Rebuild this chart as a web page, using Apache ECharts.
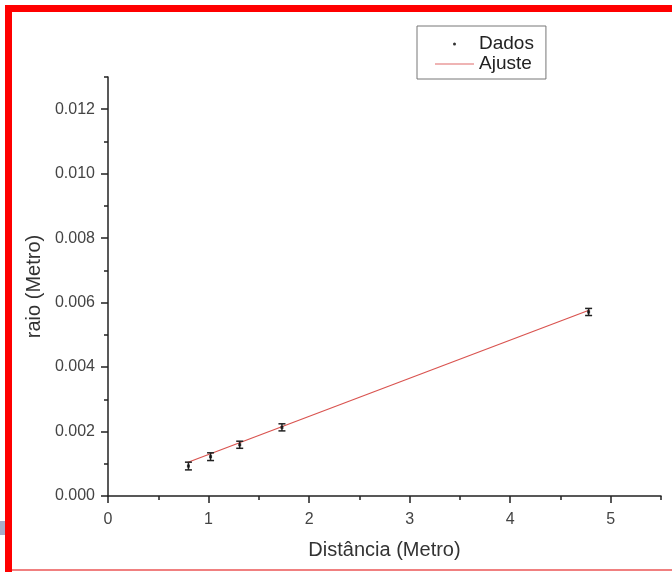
<!DOCTYPE html>
<html>
<head>
<meta charset="utf-8">
<script src="https://cdn.jsdelivr.net/npm/echarts@6/dist/echarts.min.js"></script>
<style>
  html,body{margin:0;padding:0;background:#fff;}
  #chart{width:672px;height:572px;}
</style>
</head>
<body>
<div id="chart"></div>
<script>
// medidas
const distancia = [0.8, 1.02, 1.31, 1.73, 4.78];
const raio = [0.00093, 0.00122, 0.00159, 0.00213, 0.00571];
const erro = [0.00012, 0.00012, 0.00011, 0.00011, 0.00011];
// reta de ajuste (pontos extremos)
const ajusteX = [0.79, 4.79];
const ajusteY = [0.00104, 0.00577];
const xTicks = [0, 1, 2, 3, 4, 5];
const yTicks = [0, 0.002, 0.004, 0.006, 0.008, 0.010, 0.012];

const chart = echarts.init(document.getElementById('chart'));
const font = 'Liberation Sans, Arial, sans-serif';

const pontos = distancia.map((d, i) => [d, raio[i], erro[i]]);

const eixo = {color: '#222', width: 1.5};

const option = {
  animation: false,
  backgroundColor: '#fff',
  textStyle: {fontFamily: font},
  grid: {left: 108, top: 77, right: 11, bottom: 76},
  legend: {
    orient: 'vertical',
    left: 417, top: 26,
    padding: [8, 12, 5, 18],
    borderColor: '#777', borderWidth: 1,
    itemWidth: 39, itemHeight: 3, itemGap: 0,
    textStyle: {fontSize: 19, lineHeight: 20, color: '#222', fontFamily: font},
    data: [
      {name: 'Dados', icon: 'circle', itemStyle: {color: '#000'}},
      {name: 'Ajuste', icon: 'path://M0,0L40,0L40,1L0,1Z', itemStyle: {color: '#e06a6a'}}
    ]
  },
  xAxis: [
    {
      type: 'value', min: 0, max: 5.5, interval: 0.5,
      name: 'Distância (Metro)', nameLocation: 'middle', nameGap: 44,
      nameTextStyle: {fontSize: 20, color: '#333', fontFamily: font},
      axisLine: {lineStyle: eixo},
      axisTick: {length: 7, lineStyle: eixo, customValues: xTicks},
      axisLabel: {fontSize: 16, color: '#444', margin: 16, customValues: xTicks,
        formatter: v => String(v)},
      splitLine: {show: false}
    },
    {
      // marcas menores
      type: 'value', min: 0, max: 5.5, interval: 0.5, position: 'bottom',
      axisLine: {show: false},
      axisTick: {length: 4, lineStyle: eixo},
      axisLabel: {show: false},
      splitLine: {show: false}
    }
  ],
  yAxis: [
    {
      type: 'value', min: 0, max: 0.013, interval: 0.001,
      name: 'raio (Metro)', nameLocation: 'middle', nameGap: 62,
      nameTextStyle: {fontSize: 20, color: '#333', fontFamily: font},
      axisLine: {lineStyle: eixo},
      axisTick: {length: 7, lineStyle: eixo, customValues: yTicks},
      axisLabel: {fontSize: 16, color: '#444', margin: 13, customValues: yTicks,
        formatter: v => v.toFixed(3)},
      splitLine: {show: false}
    },
    {
      type: 'value', min: 0, max: 0.013, interval: 0.001, position: 'left',
      axisLine: {show: false},
      axisTick: {length: 4, lineStyle: eixo},
      axisLabel: {show: false},
      splitLine: {show: false}
    }
  ],
  series: [
    {
      name: 'Ajuste', type: 'line',
      data: ajusteX.map((x, i) => [x, ajusteY[i]]),
      showSymbol: false, symbol: 'none',
      lineStyle: {color: '#d9534f', width: 1.2},
      itemStyle: {color: '#d9534f'},
      z: 2
    },
    {
      name: 'Dados', type: 'scatter',
      data: pontos,
      symbol: 'rect', symbolSize: 3,
      itemStyle: {color: '#111'},
      z: 4
    },
    {
      name: 'erro', type: 'custom',
      data: pontos,
      z: 3,
      renderItem: (params, api) => {
        const x = api.value(0), y = api.value(1), e = api.value(2);
        const top = api.coord([x, y + e]);
        const bot = api.coord([x, y - e]);
        const w = 3.5;
        const st = {stroke: '#222', lineWidth: 1.5};
        return {
          type: 'group',
          children: [
            {type: 'line', shape: {x1: top[0], y1: top[1], x2: bot[0], y2: bot[1]}, style: st},
            {type: 'line', shape: {x1: top[0] - w, y1: top[1], x2: top[0] + w, y2: top[1]}, style: st},
            {type: 'line', shape: {x1: bot[0] - w, y1: bot[1], x2: bot[0] + w, y2: bot[1]}, style: st}
          ]
        };
      }
    }
  ],
  graphic: [
    {type: 'rect', shape: {x: 5, y: 5, width: 667, height: 7}, style: {fill: '#f00'}, silent: true},
    {type: 'rect', shape: {x: 5, y: 5, width: 7, height: 567}, style: {fill: '#f00'}, silent: true},
    {type: 'rect', shape: {x: 12, y: 569, width: 660, height: 2}, style: {fill: '#f08080'}, silent: true},
    {type: 'rect', shape: {x: 0, y: 521, width: 5, height: 14}, style: {fill: '#a8acc8'}, silent: true}
  ]
};

chart.setOption(option);
</script>
</body>
</html>
